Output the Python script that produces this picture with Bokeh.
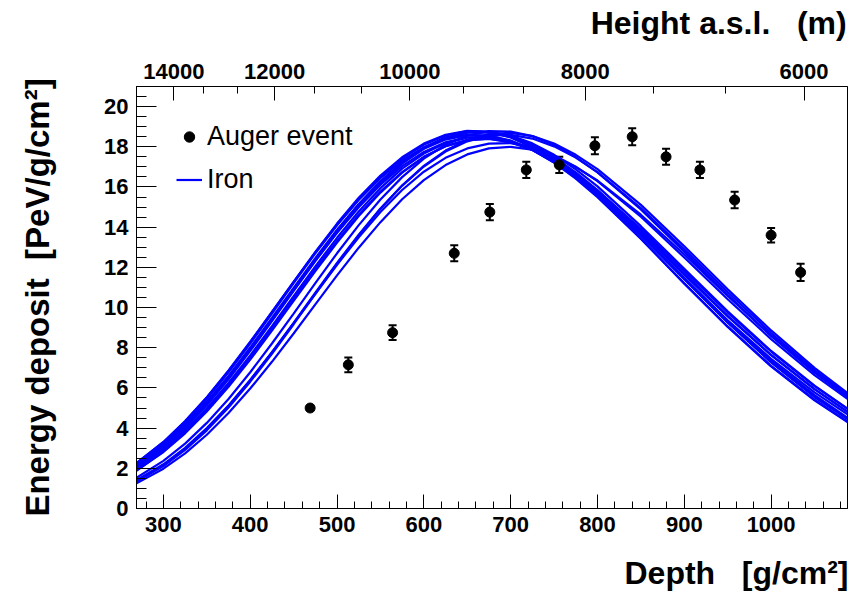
from bokeh.plotting import figure
from bokeh.models import (LinearAxis, Range1d, FixedTicker, SingleIntervalTicker,
                          Whisker, TeeHead, Legend, LegendItem, ColumnDataSource)
from bokeh.embed import file_html
from bokeh.resources import INLINE

# ---- Auger event (points with error bars) ----
depth = [469, 513, 564, 635, 676, 718, 756, 797, 840, 879, 918, 958, 1000, 1034]
edep = [5.0, 7.15, 8.75, 12.7, 14.75, 16.85, 17.1, 18.05, 18.5, 17.5, 16.85, 15.35, 13.6, 11.75]
err = [0.12, 0.37, 0.37, 0.4, 0.4, 0.4, 0.4, 0.42, 0.42, 0.4, 0.4, 0.41, 0.36, 0.43]

# ---- Iron simulated profiles ----
iron_depth = [269, 300, 325, 350, 375, 400, 425, 450, 475, 500, 525, 550, 575, 600, 625, 650,
              675, 700, 725, 750, 775, 800, 850, 900, 950, 1000, 1050, 1088]
iron_1 = [2.26, 3.30, 4.33, 5.52, 6.84, 8.27, 9.77, 11.28, 12.77, 14.18, 15.46, 16.57, 17.48, 18.16, 18.60, 18.79, 18.74, 18.46, 17.97, 17.30, 16.48, 15.54, 13.43, 11.19, 9.03, 7.07, 5.38, 4.30]
iron_2 = [2.15, 3.16, 4.16, 5.31, 6.60, 8.01, 9.48, 10.98, 12.46, 13.87, 15.15, 16.27, 17.20, 17.90, 18.36, 18.58, 18.56, 18.31, 17.85, 17.21, 16.41, 15.49, 13.42, 11.21, 9.06, 7.10, 5.42, 4.33]
iron_3 = [2.08, 3.07, 4.06, 5.21, 6.50, 7.90, 9.38, 10.89, 12.39, 13.81, 15.13, 16.28, 17.24, 17.97, 18.47, 18.72, 18.72, 18.50, 18.06, 17.43, 16.65, 15.73, 13.66, 11.43, 9.26, 7.27, 5.55, 4.45]
iron_4 = [1.97, 2.93, 3.88, 4.99, 6.25, 7.62, 9.08, 10.57, 12.05, 13.47, 14.78, 15.94, 16.91, 17.66, 18.18, 18.45, 18.48, 18.29, 17.88, 17.28, 16.52, 15.64, 13.60, 11.41, 9.26, 7.29, 5.57, 4.47]
iron_5 = [1.88, 2.81, 3.74, 4.83, 6.06, 7.41, 8.85, 10.33, 11.81, 13.23, 14.55, 15.72, 16.71, 17.49, 18.03, 18.33, 18.39, 18.22, 17.84, 17.27, 16.53, 15.67, 13.66, 11.48, 9.33, 7.36, 5.64, 4.52]
iron_6 = [2.25, 3.31, 4.35, 5.54, 6.87, 8.30, 9.78, 11.28, 12.74, 14.11, 15.36, 16.44, 17.32, 17.97, 18.40, 18.59, 18.55, 18.29, 17.84, 17.22, 16.45, 15.57, 13.57, 11.45, 9.37, 7.45, 5.78, 4.69]
iron_7 = [2.18, 3.23, 4.26, 5.45, 6.78, 8.21, 9.70, 11.22, 12.70, 14.10, 15.38, 16.49, 17.41, 18.10, 18.56, 18.78, 18.76, 18.53, 18.10, 17.49, 16.73, 15.85, 13.84, 11.70, 9.59, 7.64, 5.94, 4.82]
iron_8 = [2.06, 3.07, 4.06, 5.22, 6.51, 7.90, 9.37, 10.86, 12.32, 13.72, 14.99, 16.11, 17.04, 17.74, 18.22, 18.47, 18.48, 18.27, 17.87, 17.29, 16.56, 15.71, 13.74, 11.64, 9.56, 7.63, 5.94, 4.82]
iron_9 = [2.00, 3.00, 3.99, 5.14, 6.43, 7.84, 9.32, 10.83, 12.32, 13.74, 15.05, 16.20, 17.16, 17.91, 18.42, 18.70, 18.73, 18.56, 18.17, 17.60, 16.88, 16.03, 14.05, 11.93, 9.81, 7.84, 6.11, 4.97]
iron_10 = [1.89, 2.84, 3.79, 4.90, 6.15, 7.52, 8.97, 10.45, 11.91, 13.32, 14.62, 15.77, 16.74, 17.50, 18.03, 18.33, 18.40, 18.24, 17.89, 17.35, 16.65, 15.83, 13.92, 11.83, 9.75, 7.81, 6.09, 4.96]
iron_11 = [1.53, 2.37, 3.23, 4.26, 5.45, 6.78, 8.21, 9.70, 11.22, 12.70, 14.10, 15.38, 16.49, 17.41, 18.10, 18.56, 18.78, 18.76, 18.53, 18.10, 17.49, 16.73, 14.88, 12.78, 10.63, 8.59, 6.76, 5.54]
iron_12 = [1.41, 2.20, 3.02, 4.00, 5.13, 6.40, 7.78, 9.22, 10.68, 12.13, 13.50, 14.75, 15.85, 16.76, 17.45, 17.92, 18.16, 18.18, 17.98, 17.58, 17.01, 16.29, 14.52, 12.49, 10.41, 8.43, 6.64, 5.45]
iron_13 = [1.38, 2.16, 2.97, 3.96, 5.10, 6.38, 7.77, 9.24, 10.74, 12.22, 13.63, 14.93, 16.07, 17.02, 17.76, 18.27, 18.55, 18.59, 18.41, 18.02, 17.46, 16.74, 14.95, 12.90, 10.77, 8.73, 6.89, 5.66]
iron_14 = [1.25, 1.98, 2.74, 3.67, 4.75, 5.97, 7.30, 8.71, 10.16, 11.60, 12.98, 14.25, 15.39, 16.34, 17.09, 17.62, 17.92, 18.00, 17.86, 17.51, 16.99, 16.32, 14.62, 12.64, 10.58, 8.60, 6.80, 5.60]
iron_15 = [1.34, 2.11, 2.92, 3.89, 5.03, 6.31, 7.70, 9.17, 10.68, 12.17, 13.59, 14.91, 16.07, 17.05, 17.81, 18.34, 18.63, 18.69, 18.53, 18.16, 17.60, 16.89, 15.11, 13.05, 10.91, 8.86, 7.00, 5.75]
iron_curves = [iron_1, iron_2, iron_3, iron_4, iron_5, iron_6, iron_7, iron_8, iron_9, iron_10,
               iron_11, iron_12, iron_13, iron_14, iron_15]

# ---- secondary (height) axis: heights and the depths where they sit ----
top_heights = [14000, 12000, 10000, 8000, 6000]
top_depths = [312, 428, 584, 786, 1038]
top_minor_depths = [346, 385, 474, 528, 646, 715, 864, 947]

FONT = "Liberation Sans"
NB = "\u00a0"
# axis titles are right-aligned in the reference: centred labels padded on the left
x_title = NB * 55 + "Depth" + NB * 3 + "[g/cm\u00b2]"
top_title = NB * 51 + "Height a.s.l." + NB * 3 + "(m)"
y_title = "Energy deposit" + NB * 2 + "[PeV/g/cm\u00b2]"

p = figure(width=858, height=597, x_range=Range1d(269, 1088), y_range=Range1d(0, 21),
           output_backend="svg", toolbar_location=None,
           min_border_left=136, min_border_right=11, min_border_top=86, min_border_bottom=89)
p.xgrid.visible = False
p.ygrid.visible = False
p.outline_line_color = "black"
p.outline_line_alpha = 1
p.background_fill_color = "white"
p.border_fill_color = "white"


def style_axis(ax, maj, mnr, standoff):
    ax.major_tick_in = maj
    ax.major_tick_out = 0
    ax.minor_tick_in = mnr
    ax.minor_tick_out = 0
    ax.major_label_text_font = FONT
    ax.major_label_text_font_style = "bold"
    ax.major_label_text_font_size = "22px"
    ax.major_label_text_color = "black"
    ax.major_label_standoff = standoff
    ax.axis_line_color = "black"
    ax.major_tick_line_color = "black"
    ax.minor_tick_line_color = "black"
    ax.axis_label_text_font = FONT
    ax.axis_label_text_font_style = "bold"
    ax.axis_label_text_font_size = "32px"
    ax.axis_label_text_color = "black"


xax = p.xaxis[0]
yax = p.yaxis[0]
xax.ticker = SingleIntervalTicker(interval=100, num_minor_ticks=5)
style_axis(xax, 14, 7, 8)
yax.ticker = SingleIntervalTicker(interval=2, num_minor_ticks=4)
style_axis(yax, 20, 10, 8)

top = LinearAxis(ticker=FixedTicker(ticks=top_depths, minor_ticks=top_minor_depths),
                 major_label_overrides={d: str(h) for d, h in zip(top_depths, top_heights)})
style_axis(top, 14, 7, 8)
p.add_layout(top, "above")

yax.axis_label = y_title
yax.axis_label_text_font_size = "33px"
yax.axis_label_standoff = 45
xax.axis_label = x_title
xax.axis_label_standoff = 20
top.axis_label = top_title
top.axis_label_standoff = 20

lines = []
for c in iron_curves:
    lines.append(p.line(iron_depth, c, line_color="#0000ff", line_width=2.2))

src = ColumnDataSource(dict(x=depth, y=edep,
                            lo=[v - e for v, e in zip(edep, err)],
                            hi=[v + e for v, e in zip(edep, err)]))
wh = Whisker(source=src, base="x", lower="lo", upper="hi", dimension="height",
             line_color="black", line_width=2,
             lower_head=TeeHead(size=8, line_width=2, line_color="black"),
             upper_head=TeeHead(size=8, line_width=2, line_color="black"))
p.add_layout(wh)
pts = p.scatter("x", "y", source=src, size=10, fill_color="black", line_color="black")

leg = Legend(items=[LegendItem(label="Auger event", renderers=[pts]),
                    LegendItem(label="Iron", renderers=[lines[0]])],
             location=(40, 313), label_text_font=FONT, label_text_font_size="27px",
             label_text_color="black", glyph_width=26, glyph_height=31, label_height=31,
             spacing=12, padding=0, margin=0, border_line_alpha=0, background_fill_alpha=0,
             label_standoff=5)
p.add_layout(leg, "center")

open("out.html", "w").write(file_html(p, INLINE))
